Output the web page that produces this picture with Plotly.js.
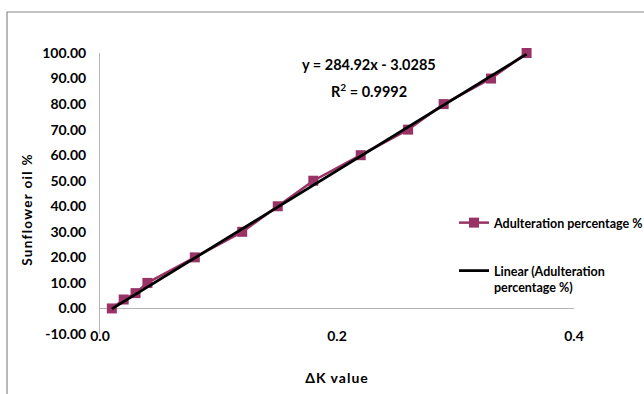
<!DOCTYPE html>
<html>
<head>
<meta charset="utf-8">
<script src="https://cdn.plot.ly/plotly-3.0.1.min.js"></script>
<style>
  html, body { margin: 0; padding: 0; background: #ffffff; }
  #chart { width: 644px; height: 394px; }
  .xtitle { letter-spacing: 1px; }
  g.annotation[data-index="2"] text { letter-spacing: 1.3px; }
</style>
</head>
<body>
<div id="chart"></div>
<script>
// ΔK values and the matching sunflower oil share (%)
const deltaK = [0.01, 0.02, 0.03, 0.04, 0.08, 0.12, 0.15, 0.18, 0.22, 0.26, 0.29, 0.33, 0.36];
const sunflowerPct = [0, 3.5, 6, 10, 20, 30, 40, 50, 60, 70, 80, 90, 100];

// Least-squares line as reported on the chart
const fitSlope = 284.92;
const fitIntercept = -3.0285;
const fitR2 = 0.9992;

const seriesName = 'Adulteration percentage %';
const trendName = 'Linear (Adulteration<br>percentage %)';
const yTitle = 'Sunflower oil %';
const xTitle = 'ΔK value';

const yTickValues = [-10, 0, 10, 20, 30, 40, 50, 60, 70, 80, 90, 100];
const xTickValues = [0, 0.2, 0.4];

const FONT = 'Lato, "Open Sans", "Noto Sans", sans-serif';
const PLUM = '#993366';
const AXIS_GREY = '#b4b4b4';

const W = 644, H = 394;
const M = { l: 100, r: 70, t: 53, b: 60, autoexpand: false };
const PW = W - M.l - M.r, PH = H - M.t - M.b;
// pixel -> paper helpers for placing annotations and decorations
const px = v => (v - M.l) / PW;
const py = v => (H - M.b - v) / PH;

const fitX = [Math.min(...deltaK), Math.max(...deltaK)];
const fitY = fitX.map(x => fitSlope * x + fitIntercept);

const traces = [
  {
    x: deltaK, y: sunflowerPct, type: 'scatter', mode: 'lines+markers',
    name: seriesName, legend: 'legend', cliponaxis: false,
    line: { color: PLUM, width: 2.5 },
    marker: { symbol: 'square', size: 10, color: PLUM },
    hoverinfo: 'x+y'
  },
  {
    x: fitX, y: fitY, type: 'scatter', mode: 'lines',
    name: trendName, legend: 'legend2', cliponaxis: false,
    line: { color: '#000000', width: 2.8 },
    hoverinfo: 'skip'
  }
];

const boldFont = size => ({ family: FONT, size: size, color: '#000', weight: 'bold' });

const layout = {
  width: W, height: H,
  margin: M,
  paper_bgcolor: '#ffffff', plot_bgcolor: '#ffffff',
  font: { family: FONT, color: '#000' },
  showlegend: true,
  xaxis: {
    range: [0, 0.4], tickvals: xTickValues,
    ticktext: xTickValues.map(v => v.toFixed(1)),
    showgrid: false, zeroline: false, showline: false, ticks: '',
    ticklabelstandoff: -8,
    tickfont: boldFont(14),
    title: { text: xTitle, standoff: 30, font: boldFont(14) },
    automargin: false,
    fixedrange: true
  },
  yaxis: {
    range: [-10, 100], tickvals: yTickValues,
    ticktext: yTickValues.map(v => v.toFixed(2)),
    showgrid: false, showline: true, linecolor: AXIS_GREY, linewidth: 1,
    zeroline: true, zerolinecolor: AXIS_GREY, zerolinewidth: 1,
    ticks: '', ticklabelstandoff: 10,
    tickfont: boldFont(14),
    automargin: false,
    fixedrange: true
  },
  legend: {
    x: px(454), y: py(223), xanchor: 'left', yanchor: 'middle',
    bgcolor: 'rgba(0,0,0,0)', borderwidth: 0, font: boldFont(12.5),
    itemclick: false, itemdoubleclick: false
  },
  legend2: {
    x: px(454), y: py(279), xanchor: 'left', yanchor: 'middle',
    valign: 'top',
    bgcolor: 'rgba(0,0,0,0)', borderwidth: 0, font: boldFont(12.5),
    itemclick: false, itemdoubleclick: false
  },
  annotations: [
    {
      xref: 'paper', yref: 'paper', x: px(369), y: py(64), showarrow: false,
      xanchor: 'center', yanchor: 'middle',
      text: 'y = ' + fitSlope.toFixed(2) + 'x - ' + Math.abs(fitIntercept).toFixed(4),
      font: boldFont(14.5)
    },
    {
      xref: 'paper', yref: 'paper', x: px(369), y: py(90), showarrow: false,
      xanchor: 'center', yanchor: 'middle',
      text: 'R<sup>2</sup> = ' + fitR2.toFixed(4),
      font: boldFont(14.5)
    },
    {
      // vertical axis title
      xref: 'paper', yref: 'paper', x: px(27), y: py(210), showarrow: false,
      xanchor: 'center', yanchor: 'middle', textangle: -90,
      text: yTitle,
      font: boldFont(13.5)
    }
  ],
  shapes: [
    // chart-area frame (left and top edges)
    {
      type: 'path', xref: 'paper', yref: 'paper',
      path: `M ${px(7)} ${py(H + 10)} L ${px(7)} ${py(12)} L ${px(W + 10)} ${py(12)}`,
      line: { color: '#8a8a8a', width: 1.2 }
    }
  ]
};

Plotly.newPlot('chart', traces, layout, { staticPlot: true, displayModeBar: false });
</script>
</body>
</html>
